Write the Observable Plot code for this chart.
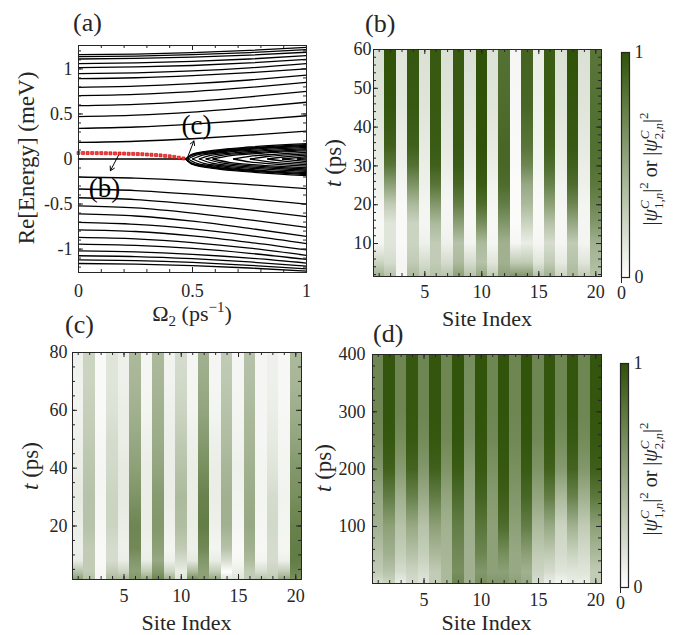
<!DOCTYPE html>
<html><head><meta charset="utf-8">
<script src="https://cdn.jsdelivr.net/npm/d3@7"></script>
<script src="https://cdn.jsdelivr.net/npm/@observablehq/plot@0.6"></script>
<style>
body{margin:0;background:#fff;}
#fig{position:relative;width:678px;height:635px;overflow:hidden;background:#fff;font-family:"Liberation Serif","DejaVu Serif",serif;}
#fig svg{position:absolute;left:0;top:0;}
#fig svg text{font-family:"Liberation Serif","DejaVu Serif",serif;}
</style></head><body><div id="fig"></div>
<script>
// ---------------- DATA ----------------
// Panel (a): energy levels, sampled at these Omega_2 values
const omegaGrid = [0, 0.25, 0.5, 0.75, 1];
const upperLevels = [
  [1.159, 1.165, 1.180, 1.205, 1.240],
  [1.137, 1.143, 1.158, 1.182, 1.215],
  [1.110, 1.116, 1.130, 1.153, 1.185],
  [1.059, 1.067, 1.083, 1.110, 1.148],
  [1.014, 1.022, 1.038, 1.066, 1.105],
  [0.947, 0.957, 0.978, 1.012, 1.060],
  [0.892, 0.902, 0.925, 0.958, 1.000],
  [0.796, 0.808, 0.836, 0.877, 0.930],
  [0.703, 0.717, 0.748, 0.794, 0.850],
  [0.592, 0.607, 0.640, 0.690, 0.750],
  [0.470, 0.486, 0.521, 0.572, 0.630],
  [0.340, 0.355, 0.387, 0.430, 0.480],
  [0.184, 0.197, 0.225, 0.264, 0.310]
];
const lowerLevels = [
  [-0.200, -0.213, -0.243, -0.284, -0.330],
  [-0.333, -0.350, -0.390, -0.440, -0.500],
  [-0.430, -0.450, -0.500, -0.565, -0.640],
  [-0.520, -0.543, -0.600, -0.675, -0.760],
  [-0.610, -0.633, -0.690, -0.770, -0.860],
  [-0.704, -0.725, -0.775, -0.850, -0.940],
  [-0.786, -0.805, -0.853, -0.925, -1.010],
  [-0.871, -0.887, -0.928, -0.990, -1.070],
  [-0.944, -0.958, -0.993, -1.047, -1.115],
  [-1.019, -1.030, -1.058, -1.100, -1.155],
  [-1.074, -1.083, -1.107, -1.143, -1.190],
  [-1.120, -1.128, -1.148, -1.180, -1.220],
  [-1.160, -1.166, -1.183, -1.210, -1.245]
];
// zero-energy branch before the splitting point
const zeroBranch = [[0, 0], [0.47, 0]];
// fan of split branches after the exceptional point ([Omega, Re E] pairs)
const fanUpper = [
  [[0.47,0],[0.5,0.055],[0.6,0.098],[0.75,0.133],[1,0.17]],
  [[0.47,0],[0.5,0.05],[0.6,0.09],[0.75,0.124],[1,0.16]],
  [[0.47,0],[0.5,0.044],[0.6,0.083],[0.75,0.116],[1,0.15]],
  [[0.48,0],[0.52,0.045],[0.6,0.074],[0.75,0.107],[1,0.14]],
  [[0.5,0],[0.55,0.045],[0.65,0.075],[0.8,0.102],[1,0.128]],
  [[0.53,0],[0.58,0.04],[0.68,0.068],[0.82,0.092],[1,0.116]],
  [[0.56,0],[0.62,0.038],[0.72,0.062],[0.85,0.083],[1,0.103]],
  [[0.59,0],[0.66,0.035],[0.78,0.06],[1,0.09]],
  [[0.68,0],[0.75,0.03],[0.86,0.052],[1,0.074]],
  [[0.754,0],[0.82,0.025],[1,0.058]],
  [[0.83,0],[0.9,0.022],[1,0.042]],
  [[0.895,0],[1,0.027]],
  [[0.96,0],[1,0.012]]
];
const fanLower = [
  [[0.47,0],[0.5,-0.06],[0.6,-0.106],[0.75,-0.144],[1,-0.185]],
  [[0.47,0],[0.5,-0.054],[0.6,-0.097],[0.75,-0.134],[1,-0.173]],
  [[0.47,0],[0.5,-0.048],[0.6,-0.09],[0.75,-0.125],[1,-0.162]],
  [[0.48,0],[0.52,-0.049],[0.6,-0.08],[0.75,-0.116],[1,-0.151]],
  [[0.5,0],[0.55,-0.049],[0.65,-0.081],[0.8,-0.11],[1,-0.138]],
  [[0.53,0],[0.58,-0.043],[0.68,-0.073],[0.82,-0.099],[1,-0.125]],
  [[0.56,0],[0.62,-0.041],[0.72,-0.067],[0.85,-0.09],[1,-0.111]],
  [[0.59,0],[0.66,-0.038],[0.78,-0.065],[1,-0.097]],
  [[0.68,0],[0.75,-0.032],[0.86,-0.056],[1,-0.08]],
  [[0.754,0],[0.82,-0.027],[1,-0.063]],
  [[0.83,0],[0.9,-0.024],[1,-0.045]],
  [[0.895,0],[1,-0.029]],
  [[0.96,0],[1,-0.013]]
];
// red marked edge state
const redOmega  = [0,0.02,0.04,0.06,0.08,0.10,0.12,0.14,0.16,0.18,0.20,0.22,0.24,0.26,0.28,0.30,0.32,0.34,0.36,0.38,0.40,0.42,0.44,0.46];
const redEnergy = [0.067,0.067,0.066,0.066,0.065,0.065,0.064,0.063,0.062,0.061,0.060,0.058,0.057,0.055,0.053,0.050,0.047,0.044,0.040,0.035,0.030,0.023,0.015,0.006];
// annotations in panel (a)
const annotations = [
  {label: "(b)", x1: 0.175, y1: 0.04, x2: 0.14, y2: -0.13, tx: 0.114, ty: -0.33},
  {label: "(c)", x1: 0.478, y1: 0.015, x2: 0.506, y2: 0.2, tx: 0.518, ty: 0.37}
];
const aXTicks = [0, 0.5, 1], aXTickLabels = ["0", "0.5", "1"];
const aYTicks = [-1, -0.5, 0, 0.5, 1], aYTickLabels = ["-1", "-0.5", "0", "0.5", "1"];

// heatmaps
const sites = [1,2,3,4,5,6,7,8,9,10,11,12,13,14,15,16,17,18,19,20];
const siteTicks = [5, 10, 15, 20];

const timesB = [1.5, 5, 10, 15, 20, 25, 30, 35, 45, 60];
const valuesB = [
  [0.45,0.25,0.05,0.03,0.05,0.08,0.10,0.12,0.15,0.18],
  [0.35,0.20,0.15,0.15,0.30,0.55,0.80,0.92,0.98,1.00],
  [0.05,0.05,0.03,0.03,0.03,0.05,0.08,0.10,0.13,0.15],
  [0.40,0.30,0.25,0.25,0.40,0.62,0.82,0.92,0.96,0.97],
  [0.30,0.20,0.08,0.05,0.06,0.08,0.10,0.12,0.15,0.18],
  [0.35,0.30,0.30,0.40,0.60,0.80,0.92,0.95,0.96,0.96],
  [0.35,0.20,0.08,0.05,0.05,0.07,0.10,0.12,0.15,0.18],
  [0.55,0.40,0.35,0.55,0.75,0.88,0.94,0.96,0.96,0.96],
  [0.35,0.20,0.06,0.04,0.05,0.07,0.10,0.12,0.15,0.18],
  [0.50,0.35,0.40,0.65,0.85,0.95,0.98,1.00,1.00,1.00],
  [0.30,0.15,0.05,0.04,0.05,0.07,0.10,0.12,0.15,0.17],
  [0.55,0.45,0.45,0.60,0.75,0.85,0.88,0.88,0.85,0.82],
  [0.60,0.30,0.05,0.02,0.02,0.02,0.03,0.03,0.04,0.05],
  [0.60,0.30,0.10,0.25,0.40,0.50,0.70,0.80,0.88,0.90],
  [0.35,0.15,0.05,0.03,0.03,0.04,0.06,0.07,0.08,0.10],
  [0.45,0.30,0.20,0.35,0.55,0.72,0.85,0.92,0.95,0.95],
  [0.25,0.12,0.05,0.04,0.05,0.07,0.10,0.12,0.15,0.18],
  [0.40,0.35,0.30,0.50,0.70,0.85,0.92,0.96,0.98,1.00],
  [0.30,0.15,0.06,0.05,0.06,0.08,0.10,0.12,0.15,0.18],
  [0.35,0.40,0.45,0.60,0.70,0.78,0.82,0.83,0.82,0.80]
];
const bYTicks = [10, 20, 30, 40, 50, 60];

const timesC = [1.5, 4, 8, 12, 20, 30, 40, 50, 60, 70, 80];
const valuesC = [
  [0.55,0.35,0.10,0.08,0.10,0.12,0.10,0.08,0.07,0.07,0.08],
  [0.35,0.30,0.30,0.30,0.35,0.35,0.33,0.30,0.28,0.25,0.25],
  [0.05,0.04,0.03,0.03,0.04,0.05,0.05,0.04,0.03,0.03,0.03],
  [0.40,0.30,0.20,0.20,0.25,0.25,0.22,0.20,0.17,0.15,0.15],
  [0.40,0.25,0.10,0.08,0.10,0.12,0.12,0.10,0.10,0.08,0.08],
  [0.60,0.55,0.60,0.68,0.70,0.62,0.55,0.50,0.45,0.42,0.40],
  [0.50,0.30,0.10,0.08,0.10,0.10,0.10,0.08,0.06,0.05,0.05],
  [0.70,0.60,0.50,0.55,0.60,0.58,0.52,0.48,0.45,0.42,0.40],
  [0.45,0.25,0.08,0.06,0.08,0.10,0.10,0.09,0.08,0.07,0.07],
  [0.15,0.10,0.20,0.30,0.38,0.40,0.35,0.30,0.25,0.22,0.20],
  [0.65,0.40,0.12,0.08,0.10,0.10,0.10,0.08,0.06,0.05,0.05],
  [0.55,0.55,0.60,0.68,0.75,0.72,0.65,0.58,0.52,0.48,0.45],
  [0.50,0.30,0.10,0.06,0.08,0.10,0.10,0.08,0.06,0.05,0.05],
  [0.15,0.00,0.20,0.35,0.45,0.45,0.42,0.38,0.35,0.32,0.30],
  [0.15,0.10,0.04,0.03,0.05,0.07,0.08,0.07,0.06,0.05,0.05],
  [0.30,0.30,0.40,0.45,0.50,0.48,0.45,0.42,0.40,0.37,0.35],
  [0.35,0.20,0.06,0.04,0.05,0.06,0.06,0.05,0.05,0.05,0.05],
  [0.30,0.25,0.20,0.20,0.22,0.20,0.15,0.12,0.10,0.08,0.08],
  [0.50,0.30,0.08,0.05,0.06,0.07,0.06,0.05,0.04,0.04,0.04],
  [0.65,0.70,0.75,0.75,0.72,0.65,0.60,0.52,0.47,0.42,0.40]
];
const cYTicks = [20, 40, 60, 80];

const timesD = [0.5, 20, 50, 100, 150, 200, 250, 300, 400];
const valuesD = [
  [0.20,0.30,0.35,0.45,0.50,0.60,0.68,0.70,0.70],
  [0.25,0.35,0.45,0.55,0.75,0.92,0.97,0.98,0.98],
  [0.10,0.20,0.28,0.35,0.45,0.58,0.66,0.70,0.70],
  [0.20,0.25,0.35,0.50,0.72,0.90,0.96,0.97,0.97],
  [0.15,0.20,0.28,0.35,0.48,0.60,0.67,0.70,0.70],
  [0.30,0.30,0.40,0.55,0.75,0.92,0.97,0.98,0.98],
  [0.40,0.40,0.42,0.45,0.52,0.62,0.68,0.70,0.70],
  [0.70,0.65,0.68,0.75,0.85,0.95,0.98,0.99,0.99],
  [0.45,0.45,0.45,0.47,0.50,0.55,0.62,0.65,0.66],
  [0.65,0.60,0.70,0.80,0.90,0.96,0.98,0.99,0.99],
  [0.60,0.55,0.55,0.55,0.58,0.63,0.68,0.70,0.70],
  [0.60,0.55,0.65,0.85,0.93,0.97,0.98,0.99,0.99],
  [0.55,0.50,0.50,0.55,0.60,0.65,0.68,0.70,0.70],
  [0.50,0.45,0.55,0.75,0.88,0.95,0.98,0.99,0.99],
  [0.20,0.25,0.30,0.40,0.52,0.62,0.68,0.70,0.70],
  [0.10,0.20,0.30,0.50,0.75,0.92,0.97,0.98,0.98],
  [0.05,0.15,0.20,0.25,0.40,0.58,0.66,0.70,0.70],
  [0.10,0.15,0.25,0.45,0.72,0.90,0.96,0.98,0.98],
  [0.10,0.15,0.20,0.30,0.45,0.60,0.67,0.70,0.70],
  [0.30,0.30,0.40,0.55,0.78,0.93,0.97,0.98,0.98]
];
const dYTicks = [100, 200, 300, 400];
const colorbarTicks = [0, 1], colorbarTickLabels = ["0", "1"];

// ---------------- RENDER ----------------
const W = 678, H = 635;
const FONT = "Liberation Serif, DejaVu Serif, serif";
const INK = "#262626";
const C0 = "#ffffff", C1 = "#2f5208";
let cscale;
try {
  const s = Plot.scale({color: {type: "linear", domain: [0, 1], range: [C0, C1], interpolate: "rgb"}});
  cscale = v => s.apply(v);
} catch (e) {
  cscale = d3.scaleLinear().domain([0, 1]).range([C0, C1]).interpolate(d3.interpolateRgb);
}
const fig = document.getElementById("fig");
const baseStyle = {fontFamily: FONT, fontSize: "18px", color: INK, background: "transparent", overflow: "visible"};

function boxTicks(xMaj, xMin, yMaj, yMin, fw, fh) {
  const m = 5, n = 3;
  return [
    Plot.tickX(xMaj, {x: d => d, insetTop: fh - m, stroke: INK}),
    Plot.tickX(xMaj, {x: d => d, insetBottom: fh - m, stroke: INK}),
    Plot.tickX(xMin, {x: d => d, insetTop: fh - n, stroke: INK}),
    Plot.tickX(xMin, {x: d => d, insetBottom: fh - n, stroke: INK}),
    Plot.tickY(yMaj, {y: d => d, insetRight: fw - m, stroke: INK}),
    Plot.tickY(yMaj, {y: d => d, insetLeft: fw - m, stroke: INK}),
    Plot.tickY(yMin, {y: d => d, insetRight: fw - n, stroke: INK}),
    Plot.tickY(yMin, {y: d => d, insetLeft: fw - n, stroke: INK})
  ];
}

// ---- Panel (a)
{
  const L = 78, R = 306, T = 45, B = 272;
  const levelRows = [...upperLevels, ...lowerLevels].flatMap((vals, k) =>
    vals.map((e, j) => ({id: "L" + k, omega: omegaGrid[j], energy: e})));
  const fanRows = [...fanUpper, ...fanLower].flatMap((pts, k) =>
    pts.map(([o, e]) => ({id: "F" + k, omega: o, energy: e})));
  const zeroRows = zeroBranch.map(([o, e]) => ({omega: o, energy: e}));
  const redRows = redOmega.map((o, i) => ({omega: o, energy: redEnergy[i]}));
  const plot = Plot.plot({
    width: W, height: H, marginLeft: L, marginRight: W - R, marginTop: T, marginBottom: H - B,
    x: {domain: [0, 1]}, y: {domain: [-1.26, 1.26]},
    style: baseStyle,
    marks: [
      Plot.line(levelRows, {x: "omega", y: "energy", z: "id", curve: "monotone-x", stroke: "black", strokeWidth: 1.3}),
      Plot.line(fanRows, {x: "omega", y: "energy", z: "id", curve: "monotone-x", stroke: "black", strokeWidth: 1.3}),
      Plot.line(zeroRows, {x: "omega", y: "energy", stroke: "black", strokeWidth: 1.6}),
      Plot.dot(redRows, {x: "omega", y: "energy", symbol: "square", r: 1.7, fill: "#ff3b3b", stroke: "#c00000", strokeWidth: 0.6}),
      Plot.arrow(annotations, {x1: "x1", y1: "y1", x2: "x2", y2: "y2", stroke: "black", strokeWidth: 1, headLength: 7}),
      Plot.text(annotations, {x: "tx", y: "ty", text: "label", fontSize: 27, fill: "black"}),
      ...boxTicks(aXTicks, d3.range(0, 1.001, 0.1), aYTicks, d3.range(-1.2, 1.21, 0.1), R - L, B - T),
      Plot.frame({stroke: INK}),
      Plot.axisX(aXTicks, {tickSize: 0, tickPadding: 12, tickFormat: d => aXTickLabels[aXTicks.indexOf(d)], label: null}),
      Plot.axisY(aYTicks, {tickSize: 0, tickPadding: 6, tickFormat: d => aYTickLabels[aYTicks.indexOf(d)], label: null})
    ]
  });
  fig.appendChild(plot);
}

// ---- Heatmap panels
function heatPanel(id, [L, R, T, B], yDomain, times, values, yTicks, yMinor, xPad, yPad) {
  const cols = sites.map((s, i) => ({site: s, gid: `${id}-g${i}`}));
  const plot = Plot.plot({
    width: W, height: H, marginLeft: L, marginRight: W - R, marginTop: T, marginBottom: H - B,
    x: {domain: [0.5, 20.5]}, y: {domain: yDomain}, color: {type: "identity"},
    style: baseStyle,
    marks: [
      Plot.rect(cols, {x1: d => d.site - 0.5, x2: d => d.site + 0.5, y1: yDomain[0], y2: yDomain[1],
        fill: d => `url(#${d.gid})`, shapeRendering: "crispEdges"}),
      ...boxTicks(siteTicks, sites, yTicks, yMinor, R - L, B - T),
      Plot.frame({stroke: INK}),
      Plot.axisX(siteTicks, {tickSize: 0, tickPadding: xPad, label: null}),
      Plot.axisY(yTicks, {tickSize: 0, tickPadding: yPad, label: null})
    ]
  });
  const defs = d3.select(plot).insert("defs", ":first-child");
  cols.forEach((c, i) => {
    const g = defs.append("linearGradient").attr("id", c.gid)
      .attr("x1", 0).attr("y1", 1).attr("x2", 0).attr("y2", 0);
    times.forEach((t, k) => {
      g.append("stop")
        .attr("offset", (t - yDomain[0]) / (yDomain[1] - yDomain[0]))
        .attr("stop-color", cscale(values[i][k]));
    });
  });
  fig.appendChild(plot);
}
heatPanel("pb", [373, 601, 49, 276], [1.5, 60], timesB, valuesB, bYTicks, d3.range(2, 60.1, 2), 9, 2);
heatPanel("pc", [72, 301, 352, 579], [1.5, 80], timesC, valuesC, cYTicks, d3.range(5, 80.1, 5), 10, 5);
heatPanel("pd", [372, 601, 354, 583], [0.5, 400], timesD, valuesD, dYTicks, d3.range(20, 400.1, 20), 10, 7);

// ---- Colorbars
function colorbar(id, [L, R, T, B]) {
  const plot = Plot.plot({
    width: W, height: H, marginLeft: L, marginRight: W - R, marginTop: T, marginBottom: H - B,
    x: {domain: [0, 1]}, y: {domain: [0, 1]},
    style: baseStyle,
    marks: [
      Plot.rect([0], {x1: 0, x2: 1, y1: 0, y2: 1, fill: `url(#${id})`}),
      Plot.frame({stroke: INK, strokeWidth: 1.2}),
      Plot.axisY(colorbarTicks, {anchor: "right", tickSize: 0, tickPadding: 5, label: null,
        tickFormat: d => colorbarTickLabels[colorbarTicks.indexOf(d)]})
    ]
  });
  const g = d3.select(plot).insert("defs", ":first-child").append("linearGradient").attr("id", id)
    .attr("x1", 0).attr("y1", 1).attr("x2", 0).attr("y2", 0);
  d3.range(0, 1.0001, 0.1).forEach(v => g.append("stop").attr("offset", v).attr("stop-color", cscale(v)));
  fig.appendChild(plot);
}
colorbar("cbb", [621, 629, 52, 277]);
colorbar("cbd", [620, 628, 363, 587]);

// ---- Text overlay
const svg = d3.select(fig).append("svg").attr("width", W).attr("height", H)
  .style("font-family", FONT).style("fill", INK);
function txt(x, y, s, size, anchor = "middle") {
  return svg.append("text").attr("x", x).attr("y", y).attr("text-anchor", anchor)
    .attr("font-size", size).attr("fill", INK).text(s);
}
// panel labels
txt(73, 31, "(a)", 26, "start");
txt(365, 32, "(b)", 26, "start");
txt(65, 333, "(c)", 26, "start");
txt(373, 342, "(d)", 26, "start");
// axis labels
function rotLabel(cx, cy) {
  return svg.append("text").attr("transform", `translate(${cx},${cy}) rotate(-90)`)
    .attr("text-anchor", "middle").attr("dy", "0.35em").attr("fill", INK);
}
{
  const t = rotLabel(26, 158).attr("font-size", 23);
  t.text("Re[Energy]  (meV)");
}
{
  const t = svg.append("text").attr("x", 192).attr("y", 321).attr("text-anchor", "middle").attr("font-size", 22).attr("fill", INK);
  t.append("tspan").text("Ω");
  t.append("tspan").attr("font-size", 15).attr("dy", 5).text("2");
  t.append("tspan").attr("dy", -5).text(" (ps");
  t.append("tspan").attr("font-size", 15).attr("dy", -9).text("−1");
  t.append("tspan").attr("dy", 9).text(")");
}
function tLabel(cx, cy) {
  const t = rotLabel(cx, cy).attr("font-size", 23);
  t.append("tspan").attr("font-style", "italic").text("t");
  t.append("tspan").text(" (ps)");
}
tLabel(333, 163);
tLabel(30, 466);
tLabel(323, 468);
txt(487, 326, "Site Index", 22);
txt(186.5, 630, "Site Index", 22);
txt(486.5, 630, "Site Index", 22);
// colorbar labels
function psiLabel(cx, cy) {
  const t = rotLabel(cx, cy).attr("font-size", 20);
  const sp = (s, o = {}) => {
    const e = t.append("tspan").text(s);
    for (const k in o) e.attr(k, o[k]);
    return e;
  };
  for (const idx of ["1", "2"]) {
    sp("|");
    sp("ψ", {"font-style": "italic"});
    sp("C", {"font-style": "italic", "font-size": 13, dy: -8});
    sp(idx + ",", {"font-size": 13, dx: -8.7, dy: 14});
    sp("n", {"font-style": "italic", "font-size": 13});
    sp("|", {dy: -6});
    sp("2", {"font-size": 13, dy: -9});
    if (idx === "1") sp(" or ", {dy: 9});
  }
}
psiLabel(650, 169);
psiLabel(650, 479);
</script></body></html>
